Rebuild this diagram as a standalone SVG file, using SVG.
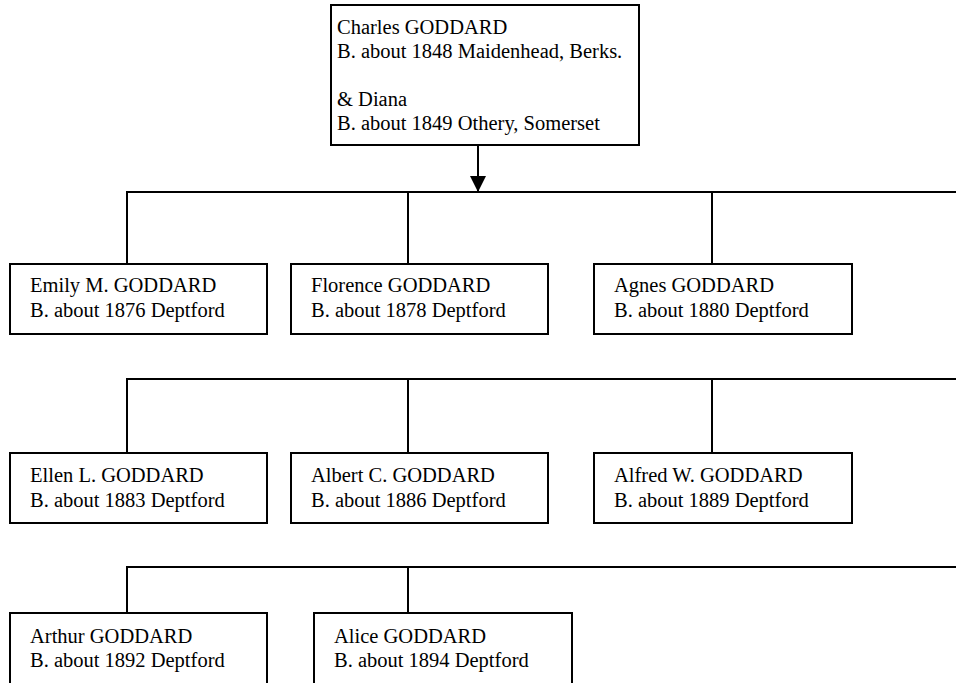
<svg xmlns="http://www.w3.org/2000/svg" width="956" height="683" viewBox="0 0 956 683">
<defs>
<style>
.box{fill:#fff;stroke:#000;stroke-width:2}
.t{font-family:"Liberation Serif","Times New Roman",serif;font-size:20.5px;fill:#000}
.c{fill:none;stroke:#000;stroke-width:2}
</style>
<marker id="arr" markerUnits="userSpaceOnUse" markerWidth="16" markerHeight="16" viewBox="0 0 16 16" refX="16" refY="8" orient="auto">
<path d="M0,0 L16,8 L0,16 Z" fill="#000"/>
</marker>
</defs>
<rect width="956" height="683" fill="#fff"/>
<g id="connectors">
<line class="c" x1="478" y1="145" x2="478" y2="192" marker-end="url(#arr)"/>
<polyline class="c" points="127,264 127,192 956,192"/>
<line class="c" x1="408" y1="192" x2="408" y2="264"/>
<line class="c" x1="712" y1="192" x2="712" y2="264"/>
<polyline class="c" points="127,453 127,379 956,379"/>
<line class="c" x1="408" y1="379" x2="408" y2="453"/>
<line class="c" x1="712" y1="379" x2="712" y2="453"/>
<polyline class="c" points="127,613 127,567 956,567"/>
<line class="c" x1="408" y1="567" x2="408" y2="613"/>
</g>
<g id="parents">
<rect class="box" x="331" y="5" width="308" height="140"/>
<text class="t" x="337" y="34">Charles GODDARD</text>
<text class="t" x="337" y="58">B. about 1848 Maidenhead, Berks.</text>
<text class="t" x="337" y="106">&amp; Diana</text>
<text class="t" x="337" y="130">B. about 1849 Othery, Somerset</text>
</g>
<g id="emily">
<rect class="box" x="10" y="264" width="257" height="70"/>
<text class="t" x="30" y="292">Emily M. GODDARD</text>
<text class="t" x="30" y="317">B. about 1876 Deptford</text>
</g>
<g id="florence">
<rect class="box" x="291" y="264" width="257" height="70"/>
<text class="t" x="311" y="292">Florence GODDARD</text>
<text class="t" x="311" y="317">B. about 1878 Deptford</text>
</g>
<g id="agnes">
<rect class="box" x="594" y="264" width="258" height="70"/>
<text class="t" x="614" y="292">Agnes GODDARD</text>
<text class="t" x="614" y="317">B. about 1880 Deptford</text>
</g>
<g id="ellen">
<rect class="box" x="10" y="453" width="257" height="70"/>
<text class="t" x="30" y="482">Ellen L. GODDARD</text>
<text class="t" x="30" y="507">B. about 1883 Deptford</text>
</g>
<g id="albert">
<rect class="box" x="291" y="453" width="257" height="70"/>
<text class="t" x="311" y="482">Albert C. GODDARD</text>
<text class="t" x="311" y="507">B. about 1886 Deptford</text>
</g>
<g id="alfred">
<rect class="box" x="594" y="453" width="258" height="70"/>
<text class="t" x="614" y="482">Alfred W. GODDARD</text>
<text class="t" x="614" y="507">B. about 1889 Deptford</text>
</g>
<g id="arthur">
<rect class="box" x="10" y="613" width="257" height="72"/>
<text class="t" x="30" y="643">Arthur GODDARD</text>
<text class="t" x="30" y="667">B. about 1892 Deptford</text>
</g>
<g id="alice">
<rect class="box" x="314" y="613" width="258" height="72"/>
<text class="t" x="334" y="643">Alice GODDARD</text>
<text class="t" x="334" y="667">B. about 1894 Deptford</text>
</g>
</svg>
